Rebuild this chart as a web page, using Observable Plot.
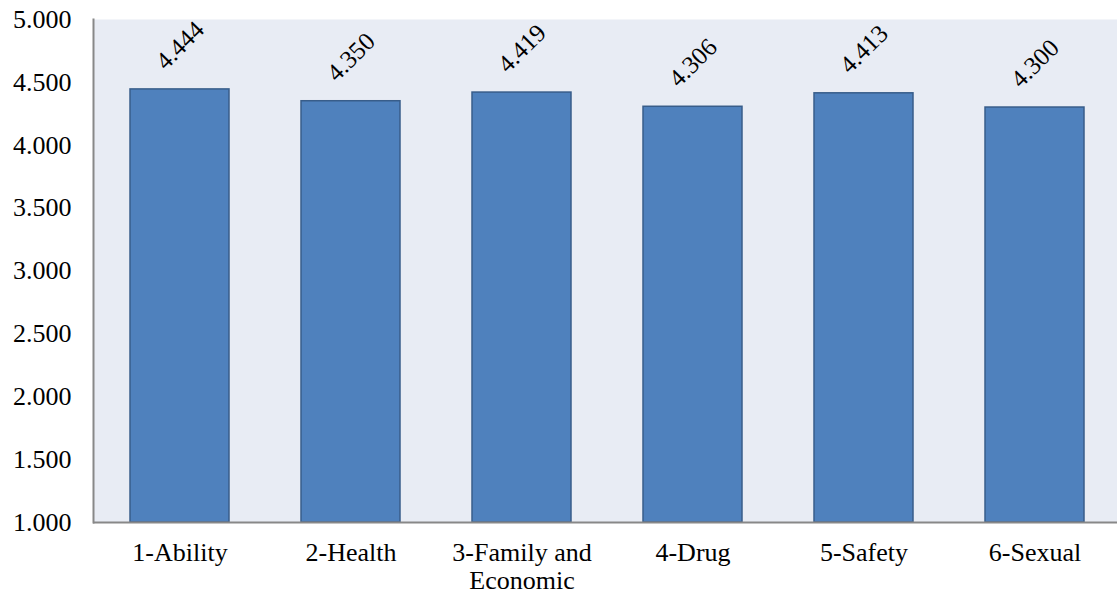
<!DOCTYPE html>
<html>
<head>
<meta charset="utf-8">
<script src="https://cdn.jsdelivr.net/npm/d3@7"></script>
<script src="https://cdn.jsdelivr.net/npm/@observablehq/plot@0.6"></script>
<style>
  html, body { margin: 0; padding: 0; background: #ffffff; }
  #chart svg { display: block; }
  #chart svg text { font-family: "Liberation Serif", "Times New Roman", serif; }
</style>
</head>
<body>
<div id="chart"></div>
<script>
const categories = ["1-Ability", "2-Health", "3-Family and\nEconomic", "4-Drug", "5-Safety", "6-Sexual"];
const values = [4.444, 4.350, 4.419, 4.306, 4.413, 4.300];
const yTicks = [1, 1.5, 2, 2.5, 3, 3.5, 4, 4.5, 5];

const data = categories.map((c, i) => ({category: c, value: values[i]}));
const font = "Liberation Serif";

const chart = Plot.plot({
  width: 1117,
  height: 598,
  marginTop: 19,
  marginBottom: 76,
  marginLeft: 93,
  marginRight: -5,
  style: {fontFamily: font, fontSize: "26px", color: "#000", background: "#fff"},
  x: {domain: categories, paddingInner: 0.42, paddingOuter: 0.21, label: null},
  y: {domain: [1, 5], label: null},
  marks: [
    Plot.frame({fill: "#e8ecf4", stroke: null}),
    Plot.barY(data, {x: "category", y1: 1, y2: "value", fill: "#4f81bd", stroke: "#385d8a", strokeWidth: 1.5}),
    Plot.text(data, {x: "category", y: "value", text: d => d.value.toFixed(3), rotate: -45, dy: -44, fontSize: 25, fontFamily: font, fill: "#000"}),
    Plot.frame({anchor: "left", stroke: "#888", strokeWidth: 2}),
    Plot.ruleY([1], {stroke: "#888", strokeWidth: 2}),
    Plot.axisY({ticks: yTicks, tickFormat: d => d.toFixed(3), tickSize: 0, tickPadding: 22, fontSize: 26, fontFamily: font, label: null}),
    Plot.axisX({tickSize: 0, tickPadding: 18, fontSize: 26, fontFamily: font, lineHeight: 1.1, label: null})
  ]
});
document.getElementById("chart").appendChild(chart);
</script>
</body>
</html>
